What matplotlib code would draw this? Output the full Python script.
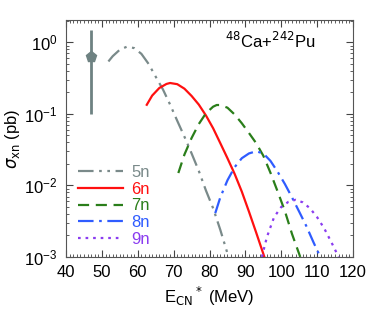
import numpy as np
import matplotlib.pyplot as plt
from matplotlib.ticker import MultipleLocator, LogLocator, NullFormatter

plt.rcParams['font.family'] = ['Liberation Sans', 'DejaVu Sans']

# -- dados
e5 = [51.8, 53, 55, 57, 59, 61, 63, 65, 67, 69, 71, 73, 75, 77, 79, 81, 83, 85.3]
s5 = [0.54, 0.64, 0.79, 0.87, 0.83, 0.69, 0.50, 0.33, 0.22, 0.135, 0.08, 0.048,
      0.028, 0.016, 0.0085, 0.0048, 0.0024, 0.001]

e6 = [62.5, 64, 66, 68, 69, 71, 73, 75, 77, 79, 81, 83, 85, 87, 89, 91, 93, 95.3]
s6 = [0.134, 0.18, 0.23, 0.262, 0.27, 0.26, 0.225, 0.178, 0.135, 0.095, 0.063,
      0.039, 0.024, 0.0145, 0.0082, 0.0043, 0.0022, 0.001]

e7 = [71.3, 73, 75, 77, 79, 81, 82, 83, 85, 87, 89, 91, 93, 95, 97, 99, 101, 103, 105.3]
s7 = [0.0149, 0.027, 0.046, 0.072, 0.102, 0.126, 0.133, 0.133, 0.122, 0.098,
      0.074, 0.054, 0.039, 0.026, 0.015, 0.0082, 0.0044, 0.0021, 0.001]

e8 = [81.6, 83, 85, 87, 89, 91, 93, 95, 97, 99, 101, 103, 105, 107, 109, 110.9]
s8 = [0.0041, 0.0068, 0.0118, 0.018, 0.024, 0.028, 0.030, 0.028, 0.022, 0.0155,
      0.0105, 0.0068, 0.0043, 0.0027, 0.0016, 0.001]

e9 = [94.6, 96, 98, 100, 102, 104, 106, 108, 110, 112, 114, 116]
s9 = [0.001, 0.0019, 0.0036, 0.005, 0.0059, 0.0063, 0.0058, 0.0048, 0.0036,
      0.0025, 0.0016, 0.001]

# ponto experimental
e_exp = [46.9]
s_exp = [0.62]
s_exp_lo = [0.10]
s_exp_hi = [1.49]

fig = plt.figure(figsize=(3.82, 3.28), dpi=100)
ax = fig.add_axes([0.173, 0.2165, 0.751, 0.7225])

ax.plot(e5, s5, color='#7a8a8a', lw=1.6, dashes=(7, 2.5, 1.2, 2.5, 1.2, 2.5), label='5n')
ax.plot(e6, s6, color='#ff1010', lw=1.6, label='6n')
ax.plot(e7, s7, color='#2a7e1a', lw=1.6, dashes=(5, 3), label='7n')
ax.plot(e8, s8, color='#2f5cff', lw=1.6, dashes=(7, 2.5, 1.2, 2.5), label='8n')
ax.plot(e9, s9, color='#8a3cf0', lw=1.6, dashes=(1.2, 2.2), label='9n')

yerr = [[s_exp[0] - s_exp_lo[0]], [s_exp_hi[0] - s_exp[0]]]
ax.errorbar(e_exp, s_exp, yerr=yerr, fmt='p', color='#6e8282', ms=8, elinewidth=2,
            capsize=0)

ax.set_yscale('log')
ax.set_xlim(40, 120)
ax.set_ylim(1e-3, 2.05)
ax.xaxis.set_major_locator(MultipleLocator(10))
ax.xaxis.set_minor_locator(MultipleLocator(1))
ax.yaxis.set_major_locator(LogLocator(base=10, numticks=10))
ax.yaxis.set_minor_locator(LogLocator(base=10, subs=np.arange(2, 10), numticks=10))
ax.yaxis.set_minor_formatter(NullFormatter())
ax.tick_params(which='both', direction='in', top=True, right=True, labelsize=12,
               color='#444444')
ax.tick_params(which='major', length=5, pad=6)
ax.tick_params(which='minor', length=2.5)
for sp in ax.spines.values():
    sp.set_color('#555555')

ax.set_xlabel(r'E$_{\rm CN}$$^*$ (MeV)', fontsize=12, labelpad=3)
ax.set_ylabel(r'$\sigma_{\rm xn}$ (pb)', fontsize=12, labelpad=2)

ax.text(0.87, 0.955, r'$^{48}$Ca+$^{242}$Pu', transform=ax.transAxes, fontsize=12,
        ha='right', va='top')

leg = ax.legend(loc='lower left', bbox_to_anchor=(-0.01, -0.02), frameon=False,
                fontsize=12, handlelength=2.7, handletextpad=0.5, labelspacing=0.1,
                labelcolor='linecolor')

plt.savefig('out.png', dpi=100)
